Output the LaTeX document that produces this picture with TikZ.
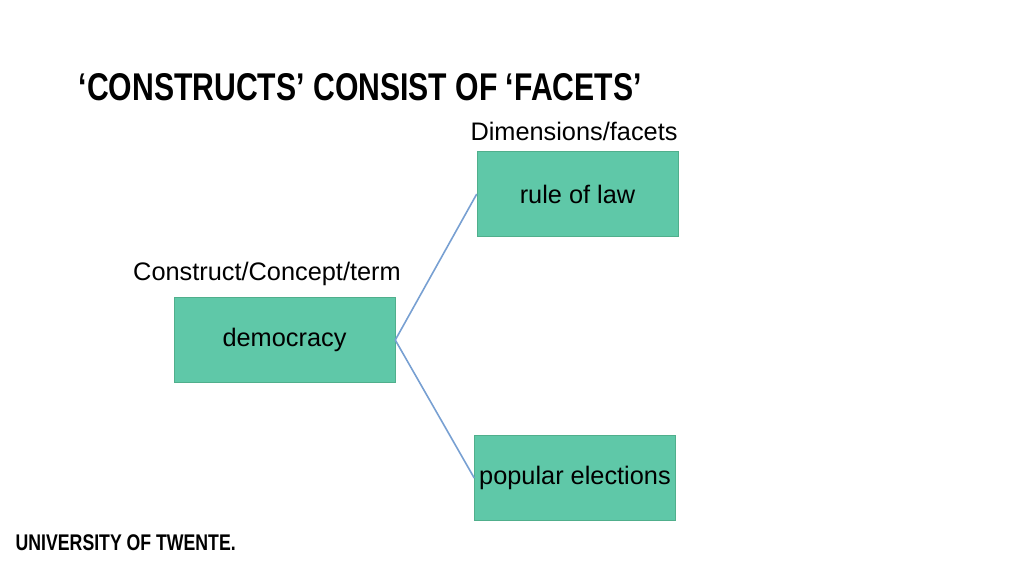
\documentclass[tikz,border=0pt]{standalone}
\usepackage{fontspec}
\setmainfont{Liberation Sans}
\newfontfamily\titlefont[FakeStretch=0.78]{Liberation Sans}
\definecolor{boxfill}{RGB}{95,200,168}
\definecolor{boxline}{RGB}{80,175,140}
\definecolor{linkcolor}{RGB}{120,160,210}
\begin{document}
\begin{tikzpicture}[x=0.75pt,y=-0.75pt,
  facetbox/.style={draw=boxline,fill=boxfill,minimum width=201*0.75pt,minimum height=85*0.75pt,inner sep=0pt,font=\fontsize{19}{22}\selectfont},
  caption/.style={font=\fontsize{19}{22}\selectfont},
  link/.style={draw=linkcolor,line width=1.2pt}]
\useasboundingbox (0,0) rectangle (1024,576);
\node[anchor=west,font=\titlefont\bfseries\fontsize{29}{32}\selectfont] (title) at (74,87) {‘CONSTRUCTS’ CONSIST OF ‘FACETS’};
\node[caption] (dimcap) at (574,131) {Dimensions/facets};
\node[caption] (concap) at (267,274) {Construct/Concept/term};
\node[facetbox] (law) at (577.5,194) {rule of law};
\node[facetbox,minimum width=221*0.75pt] (demo) at (284.5,340) {democracy};
\node[facetbox] (elect) at (575,478) {popular elections};
\draw[link] (demo.east) -- (law.west);
\draw[link] (demo.east) -- (elect.west);
\node[anchor=west,font=\titlefont\bfseries\fontsize{17}{20}\selectfont] (uni) at (11,543) {UNIVERSITY OF TWENTE.};
\end{tikzpicture}
\end{document}
